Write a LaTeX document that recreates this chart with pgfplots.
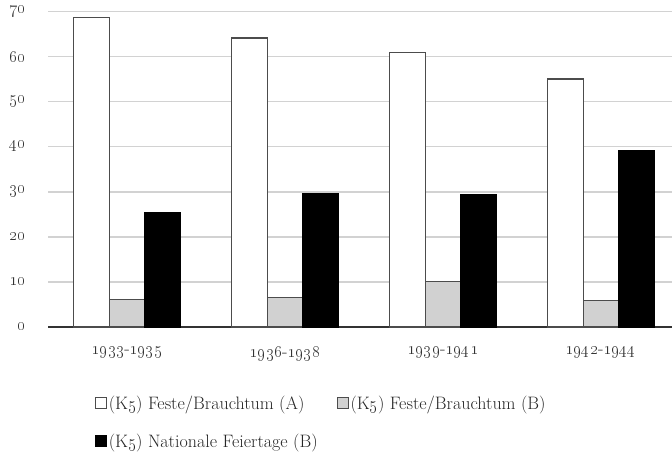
\documentclass[border=0pt]{standalone}
\usepackage{pgfplots}
\pgfplotsset{compat=1.18}
\definecolor{barline}{gray}{0.3}
\definecolor{midgray}{gray}{0.82}
\newcommand{\os}[1]{\oldstylenums{#1}}
\begin{document}
\begin{tikzpicture}[x=1pt,y=1pt]
\useasboundingbox (0,0) rectangle (672,-459);
\begin{axis}[
  at={(48pt,-327pt)}, anchor=south west,
  scale only axis, width=624pt, height=315.6pt,
  ymin=0, ymax=70, xmin=-0.5, xmax=3.45,
  ybar=0pt, bar width=35.5pt,
  ytick={0,10,...,70},
  yticklabels={\os{0},\os{10},\os{20},\os{30},\os{40},\os{50},\os{60},\os{70}},
  xtick={0,1,2,3},
  xticklabels={\os{1933}-\os{1935},\os{1936}-\os{1938},\os{1939}-\os{1941},\os{1942}-\os{1944}},
  ymajorgrids, grid style={gray!35, line width=1.5pt},
  major tick length=0pt,
  axis x line*=bottom, axis y line*=left,
  x axis line style={draw=black!80, line width=1.6pt, -},
  y axis line style={draw=none},
  tick label style={font=\fontsize{18}{21}\selectfont, text=black!80},
  x tick label style={yshift=-16pt},
  y tick label style={xshift=-19pt},
  legend style={at={(axis description cs:0.07,-0.205)}, anchor=north west, draw=none, fill=none,
    font=\fontsize{18}{21}\selectfont, text=black!85, legend columns=2,
    /tikz/every even column/.append style={column sep=17pt},
    row sep=19pt},
  legend cell align=left,
]
\addplot[fill=white, draw=barline, line width=1.1pt,
  legend image code/.code={\draw[fill=white,draw=barline,line width=0.9pt] (0pt,-5pt) rectangle (11pt,6pt);}]
  coordinates {(0,68.6) (1,64.1) (2,60.8) (3,55.0)};
\addplot[fill=midgray, draw=barline, line width=1.1pt,
  legend image code/.code={\draw[fill=midgray,draw=barline,line width=0.9pt] (0pt,-5pt) rectangle (11pt,6pt);}]
  coordinates {(0,6.2) (1,6.5) (2,10.1) (3,5.8)};
\addplot[fill=black, draw=black, line width=1.1pt,
  legend image code/.code={\draw[fill=black,draw=black,line width=0.9pt] (0pt,-5pt) rectangle (11pt,6pt);}]
  coordinates {(0,25.3) (1,29.7) (2,29.3) (3,39.2)};
\legend{(K\os{5}) Feste/Brauchtum (A),(K\os{5}) Feste/Brauchtum (B),(K\os{5}) Nationale Feiertage (B)}
\end{axis}
\end{tikzpicture}
\end{document}
